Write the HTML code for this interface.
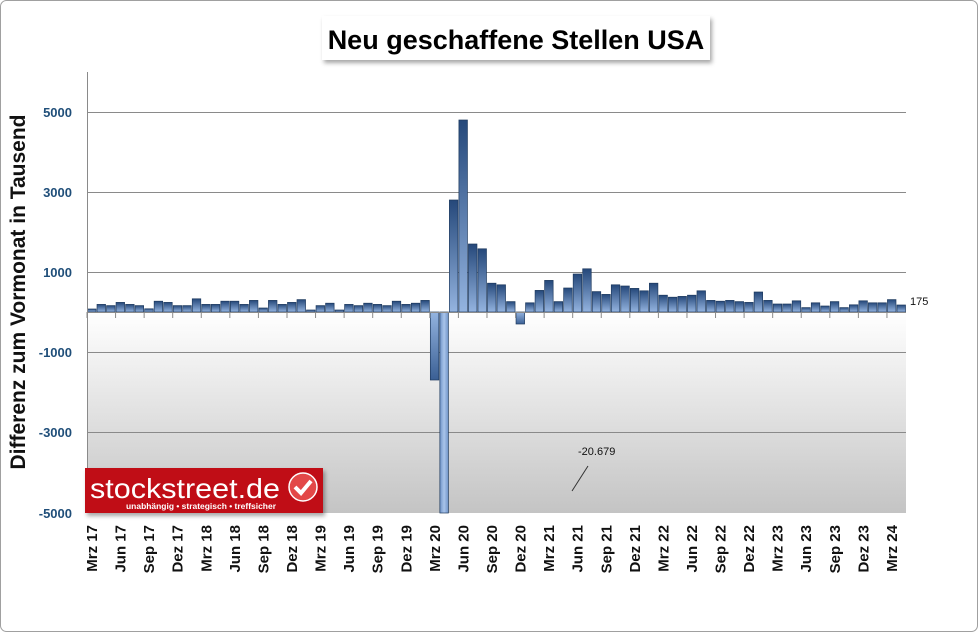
<!DOCTYPE html>
<html><head><meta charset="utf-8"><style>
body{margin:0;background:#fff;}
svg{display:block;font-family:"Liberation Sans",sans-serif;}
</style></head><body>
<svg id="s" width="978" height="632" viewBox="0 0 978 632" xmlns="http://www.w3.org/2000/svg">
<defs>
<linearGradient id="bg" x1="0" y1="0" x2="0" y2="1">
<stop offset="0" stop-color="#ffffff"/><stop offset="1" stop-color="#c4c4c4"/></linearGradient>
<linearGradient id="bp" x1="0" y1="0" x2="0" y2="1">
<stop offset="0" stop-color="#25487a"/><stop offset="1" stop-color="#94b4e0"/></linearGradient>
<linearGradient id="bn" x1="0" y1="0" x2="0" y2="1">
<stop offset="0" stop-color="#94b4e0"/><stop offset="1" stop-color="#3a5f94"/></linearGradient>
<linearGradient id="bl" x1="0" y1="0" x2="1" y2="0">
<stop offset="0" stop-color="#6f94c8"/><stop offset="0.5" stop-color="#a9c4ea"/><stop offset="1" stop-color="#6f94c8"/></linearGradient>
<filter id="sh" x="-10%" y="-10%" width="130%" height="150%"><feDropShadow dx="2" dy="3" stdDeviation="2" flood-color="#000" flood-opacity="0.35"/></filter>
</defs>
<rect x="0.5" y="0.5" width="977" height="631" rx="6" fill="#fff" stroke="#a0a0a0"/>
<rect x="87" y="312" width="819" height="201" fill="url(#bg)"/>
<g stroke="#8a8a8a" stroke-width="1">
<line x1="87" y1="112.5" x2="906" y2="112.5"/>
<line x1="87" y1="192.5" x2="906" y2="192.5"/>
<line x1="87" y1="272.5" x2="906" y2="272.5"/>
<line x1="87" y1="352.5" x2="906" y2="352.5"/>
<line x1="87" y1="432.5" x2="906" y2="432.5"/>
</g>
<g id="bars"></g>
<line x1="87" y1="312.5" x2="906" y2="312.5" stroke="#8a8a8a"/>
<g id="ticks" stroke="#8a8a8a"></g>
<line x1="87.5" y1="72" x2="87.5" y2="513" stroke="#8a8a8a"/>
<g font-size="13" font-weight="bold" fill="#1f4e79" text-anchor="end">
<text x="72" y="117">5000</text><text x="72" y="197">3000</text><text x="72" y="277">1000</text>
<text x="72" y="357">-1000</text><text x="72" y="437">-3000</text><text x="72" y="518">-5000</text>
</g>
<text transform="translate(25,292) rotate(-90)" text-anchor="middle" font-size="21" font-weight="bold" fill="#111" textLength="355" lengthAdjust="spacingAndGlyphs">Differenz zum Vormonat in Tausend</text>
<g id="xl" font-size="15" font-weight="bold" fill="#111" text-anchor="end"></g>
<text x="910" y="305" font-size="11" fill="#111">175</text>
<text x="578" y="455" font-size="11" fill="#111">-20.679</text>
<line x1="572" y1="491" x2="588" y2="466" stroke="#333"/>
<rect x="322" y="16" width="388" height="44" fill="#fff" filter="url(#sh)"/>
<text x="516" y="49" text-anchor="middle" font-size="27" font-weight="bold" fill="#000">Neu geschaffene Stellen USA</text>
<g filter="url(#sh)"><rect x="85" y="468" width="238" height="45" fill="#c00c12"/></g>
<text x="90" y="498" font-size="28" fill="#fff" textLength="190" lengthAdjust="spacingAndGlyphs">stockstreet.de</text>
<text x="126" y="509" font-size="8.5" font-weight="bold" fill="#fff" textLength="150" lengthAdjust="spacingAndGlyphs">unabhängig • strategisch • treffsicher</text>
<circle cx="303" cy="487" r="14" fill="#e34848" stroke="#fff" stroke-width="1.5"/>
<path d="M295 487 l6 6 l10 -12" stroke="#fff" stroke-width="4" fill="none"/>
</svg>
<script>
var v=[75,190,160,240,190,160,80,270,240,160,160,330,190,190,270,270,190,290,100,290,190,240,310,50,160,220,50,190,160,220,190,160,270,190,220,290,
-1700,-20679,2800,4800,1700,1580,720,680,260,-300,
230,540,790,260,600,950,1080,510,440,680,650,590,
530,720,420,370,390,420,530,290,270,290,260,240,
500,290,200,200,280,110,230,150,260,110,180,280,
230,230,310,175];
var NS="http://www.w3.org/2000/svg",b=document.getElementById('bars'),t=document.getElementById('ticks'),xl=document.getElementById('xl');
var w=819/86;
function el(n,a,p){var e=document.createElementNS(NS,n);for(var k in a)e.setAttribute(k,a[k]);p.appendChild(e);return e;}
v.forEach(function(d,i){var x=87+i*w;var y0=312,y1=312-d*0.04;if(y1>513)y1=513;
var top=Math.min(y0,y1),h=Math.abs(y1-y0);
var f=d>=0?'url(#bp)':(d<-5000?'url(#bl)':'url(#bn)');
el('rect',{x:x+0.5,y:top,width:w-1,height:Math.max(h,1),fill:f,stroke:'#1e3a5f','stroke-width':0.7},b);});
var mo=['Mrz','Jun','Sep','Dez'];
for(var k=0;k<29;k++){var x=87+k*3*w;el('line',{x1:x,y1:312,x2:x,y2:318},t);
var m=k%4;var year=17+Math.floor(k/4);
var tx=el('text',{transform:'translate('+(x+10)+',525) rotate(-90)'},xl);tx.textContent=mo[m]+' '+year;}
</script>
</body></html>
